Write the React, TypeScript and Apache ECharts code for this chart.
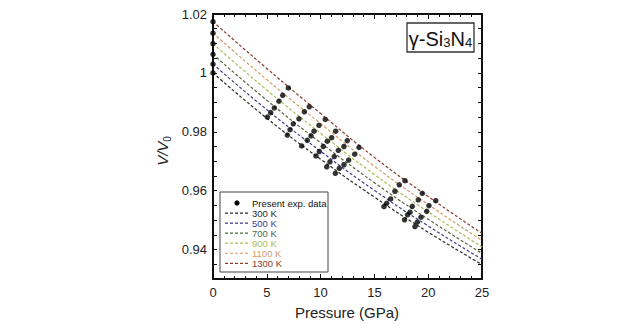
import React, { useEffect, useRef } from "react";
import * as echarts from "echarts";

// Isotherm curves (V/V0 at the pressures below)
const pressureGrid = [0, 5, 10, 15, 20, 25];
const isothermNames = ["300 K", "500 K", "700 K", "900 K", "1100 K", "1300 K"];
const v300 = [1.0, 0.9846, 0.9707, 0.9578, 0.9459, 0.9349];
const v500 = [1.003, 0.9875, 0.9734, 0.9601, 0.948, 0.9367];
const v700 = [1.0063, 0.9907, 0.9763, 0.9627, 0.9503, 0.9387];
const v900 = [1.0099, 0.9942, 0.9795, 0.9655, 0.9528, 0.9409];
const v1100 = [1.0135, 0.9977, 0.9828, 0.9683, 0.9553, 0.9431];
const v1300 = [1.0174, 1.0015, 0.9862, 0.9713, 0.958, 0.9455];
const isothermColors = ["#2a2a2a", "#3b3b8c", "#4f6b3e", "#a9bd52", "#d39a62", "#8a3c2e"];

// Experimental points (pressure GPa, V/V0)
const expP = [
  0, 0, 0, 0, 0, 0,
  5.05, 5.36, 5.7, 6.13, 6.48, 7.0,
  6.91, 7.16, 7.46, 7.99, 8.49, 8.95,
  8.24, 8.76, 9.11, 9.39, 9.85, 10.44,
  9.57, 9.88, 10.25, 10.62, 11.03, 11.4,
  10.57, 10.87, 11.27, 11.65, 12.17, 12.48,
  11.37, 11.74, 12.17, 12.61, 13.17, 13.57,
  15.89, 16.14, 16.51, 16.91, 17.31, 17.84,
  17.8, 18.08, 18.31, 18.52, 19.08, 19.45,
  18.77, 18.99, 19.33, 19.86, 20.07, 20.7,
];
const expV = [
  1.0, 1.003, 1.0063, 1.0099, 1.0135, 1.0174,
  0.985, 0.9865, 0.9881, 0.9904, 0.9924, 0.9949,
  0.9789, 0.9807, 0.9827, 0.9844, 0.9868, 0.9885,
  0.9752, 0.9771, 0.9786, 0.9802, 0.9822, 0.9842,
  0.9718, 0.9733, 0.975, 0.9768, 0.978, 0.9802,
  0.9681, 0.9698, 0.9716, 0.9737, 0.975, 0.977,
  0.9659, 0.9676, 0.9688, 0.9704, 0.9724, 0.9747,
  0.9546, 0.9557, 0.9572, 0.9598, 0.962, 0.9634,
  0.9501, 0.9518, 0.9527, 0.9547, 0.9569, 0.9591,
  0.9478, 0.9493, 0.951, 0.953, 0.9549, 0.9566,
];
const expName = "Present exp. data";
const yLabelValues = [0.94, 0.96, 0.98, 1.0, 1.02];

const FONT = "Liberation Sans";

export default function App() {
  const ref = useRef<HTMLDivElement>(null);

  useEffect(() => {
    if (!ref.current) return;
    const chart = echarts.init(ref.current, null, { renderer: "svg" });
    const curves = [v300, v500, v700, v900, v1100, v1300];

    const lineSeries = curves.map((vals, i) => ({
      type: "line",
      name: isothermNames[i],
      data: pressureGrid.map((p, j) => [p, vals[j]]),
      smooth: true,
      showSymbol: false,
      symbol: "none",
      lineStyle: { color: isothermColors[i], width: 1.2, type: [3, 2] },
      z: 2,
    }));

    const scatter = {
      type: "scatter",
      name: expName,
      data: expP.map((p, i) => [p, expV[i]]),
      symbol: "circle",
      symbolSize: 5.5,
      itemStyle: { color: "#000" },
      clip: false,
      z: 5,
    };

    const axisLineStyle = { color: "#111", width: 2 };
    const xBase = {
      type: "value",
      min: 0,
      max: 25,
      interval: 5,
      axisLine: { show: true, onZero: false, lineStyle: axisLineStyle },
      axisTick: { show: true, inside: true, length: 5, lineStyle: { color: "#111", width: 1 } },
      minorTick: { show: true, splitNumber: 5, length: 3, lineStyle: { color: "#111", width: 1 } },
      splitLine: { show: false },
    };
    const yBase = {
      type: "value",
      min: 0.93,
      max: 1.02,
      interval: 0.005,
      axisLine: { show: true, onZero: false, lineStyle: axisLineStyle },
      axisTick: { show: true, inside: true, length: 4, lineStyle: { color: "#111", width: 1 } },
      splitLine: { show: false },
    };

    const legendLeft = 220;
    const legendTop = 192;
    const rowStep = 10.05;
    const firstRow = 203;
    const legendItems: any[] = [
      {
        type: "rect",
        shape: { x: legendLeft, y: legendTop, width: 108, height: 80 },
        style: { fill: "#fff", stroke: "#444", lineWidth: 1 },
        z: 10,
      },
      {
        type: "circle",
        shape: { cx: 237, cy: firstRow, r: 2.6 },
        style: { fill: "#000" },
        z: 11,
      },
      {
        type: "text",
        x: 252,
        y: firstRow,
        style: { text: expName, fill: "#111", fontSize: 9.5, fontFamily: FONT, verticalAlign: "middle", align: "left" },
        z: 11,
      },
    ];
    isothermNames.forEach((n, i) => {
      const cy = firstRow + rowStep * (i + 1);
      legendItems.push({
        type: "line",
        shape: { x1: 225, y1: cy, x2: 250, y2: cy },
        style: { stroke: isothermColors[i], lineWidth: 1.2, lineDash: [3, 2] },
        z: 11,
      });
      legendItems.push({
        type: "text",
        x: 252,
        y: cy,
        style: { text: n, fill: isothermColors[i], fontSize: 9.5, fontFamily: FONT, verticalAlign: "middle", align: "left" },
        z: 11,
      });
    });

    const option: any = {
      animation: false,
      backgroundColor: "#fff",
      grid: { left: 213, top: 14, width: 269, height: 265, containLabel: false },
      xAxis: [
        {
          ...xBase,
          position: "bottom",
          axisLabel: { color: "#222", fontSize: 13, fontFamily: FONT, margin: 7 },
        },
        { ...xBase, position: "top", axisLabel: { show: false } },
      ],
      yAxis: [
        {
          ...yBase,
          position: "left",
          axisLabel: {
            color: "#222",
            fontSize: 13,
            fontFamily: FONT,
            margin: 6,
            formatter: (v: number) => {
              const hit = yLabelValues.find((t) => Math.abs(t - v) < 1e-6);
              if (hit === undefined) return "";
              return hit === 1 ? "1" : hit.toFixed(2);
            },
          },
        },
        { ...yBase, position: "right", axisLabel: { show: false } },
      ],
      series: [...lineSeries, scatter],
      graphic: [
        {
          type: "text",
          x: 347,
          y: 312,
          style: { text: "Pressure (GPa)", fill: "#222", fontSize: 15, fontFamily: FONT, align: "center", verticalAlign: "middle" },
        },
        {
          type: "text",
          x: 161,
          y: 151,
          rotation: Math.PI / 2,
          style: {
            text: "{a|V/V}{b|0}",
            align: "center",
            verticalAlign: "middle",
            rich: {
              a: { fontSize: 15, fontStyle: "italic", fontFamily: FONT, fill: "#222", lineHeight: 18, verticalAlign: "bottom" },
              b: { fontSize: 10, fontFamily: FONT, fill: "#222", lineHeight: 12, verticalAlign: "bottom", padding: [0, 0, -2, 0] },
            },
          },
        },
        {
          type: "rect",
          shape: { x: 407, y: 23, width: 67, height: 29 },
          style: { fill: "#fff", stroke: "#333", lineWidth: 1.3 },
          z: 10,
        },
        {
          type: "text",
          x: 440.5,
          y: 38,
          z: 11,
          style: {
            text: "{m|γ-Si}{s|3}{m|N}{s|4}",
            align: "center",
            verticalAlign: "middle",
            rich: {
              m: { fontSize: 20, fontFamily: FONT, fill: "#111", lineHeight: 22, verticalAlign: "bottom" },
              s: { fontSize: 13, fontFamily: FONT, fill: "#111", lineHeight: 17, verticalAlign: "bottom" },
            },
          },
        },
        ...legendItems,
      ],
    };

    chart.setOption(option);
    return () => chart.dispose();
  }, []);

  return (
    <div
      ref={ref}
      style={{ position: "absolute", left: 0, top: 0, width: 640, height: 330, background: "#fff" }}
    />
  );
}
